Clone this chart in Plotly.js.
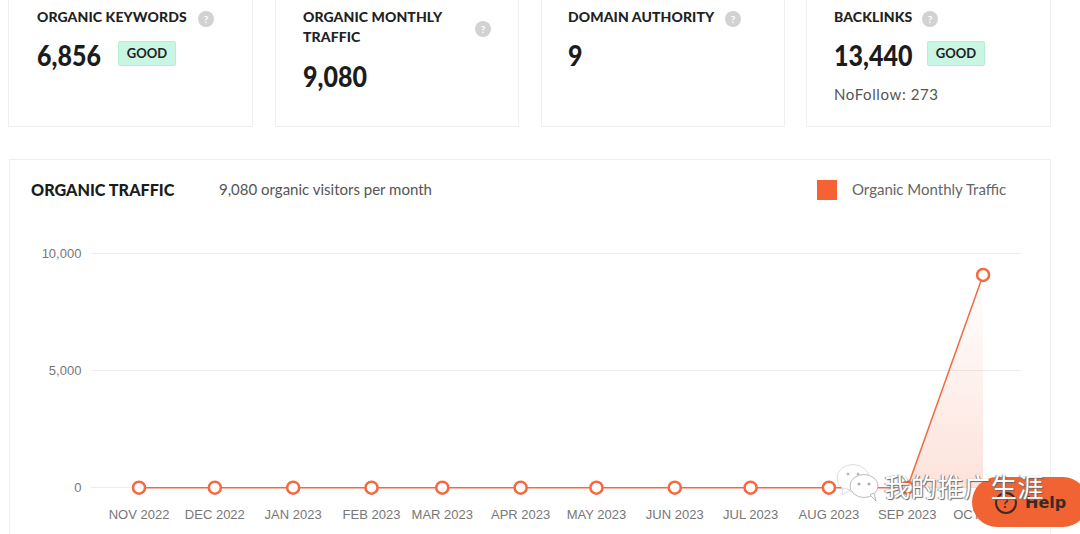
<!DOCTYPE html>
<html>
<head>
<meta charset="utf-8">
<script src="https://cdn.plot.ly/plotly-3.0.1.min.js"></script>
<style>
html,body{margin:0;padding:0;background:#fff;width:1080px;height:534px;overflow:hidden;font-family:Lato,"Open Sans",sans-serif;}
#chart{position:absolute;left:0;top:0;width:1080px;height:534px;}
.card{position:absolute;box-sizing:border-box;border:1px solid #f0f0f0;background:#fff;}
.t{position:absolute;white-space:nowrap;line-height:20px;height:20px;transform:translateY(-10px);color:#222;}
.lbl{font-weight:900;font-size:14px;color:#222;letter-spacing:.1px;}
.num{font-weight:900;font-size:25px;color:#1c1c1c;transform:translateY(-10px) scaleY(1.12);}
.q{position:absolute;width:16px;height:16px;border-radius:50%;background:#d2d2d2;color:#fff;font:700 10px/16px Lato,sans-serif;text-align:center;}
.good{position:absolute;box-sizing:border-box;width:58px;height:25px;background:#c9f5e3;border:1px solid #b4efd8;border-radius:2px;font:700 13px/23px Lato,sans-serif;color:#222;text-align:center;}
.reg{font-size:15px;color:#555;}
#over{position:absolute;left:0;top:0;width:1080px;height:534px;pointer-events:none;}
</style>
</head>
<body>
<div class="card" style="left:9px;top:159px;width:1042px;height:400px;"></div>
<div id="chart"></div>
<div id="over">
  <div class="card" style="left:8px;top:-20px;width:245px;height:147px;"></div>
  <div class="card" style="left:275px;top:-20px;width:244px;height:147px;"></div>
  <div class="card" style="left:541px;top:-20px;width:244px;height:147px;"></div>
  <div class="card" style="left:806px;top:-20px;width:245px;height:147px;"></div>

  <div class="t lbl" style="left:37px;top:17px;">ORGANIC KEYWORDS</div>
  <div class="q" style="left:198px;top:11px;">?</div>
  <div class="t num" style="left:37px;top:55px;">6,856</div>
  <div class="good" style="left:118px;top:41px;">GOOD</div>

  <div class="t lbl" style="left:303px;top:17px;">ORGANIC MONTHLY</div>
  <div class="t lbl" style="left:303px;top:37px;">TRAFFIC</div>
  <div class="q" style="left:475px;top:21px;">?</div>
  <div class="t num" style="left:303px;top:76px;">9,080</div>

  <div class="t lbl" style="left:568px;top:17px;">DOMAIN AUTHORITY</div>
  <div class="q" style="left:725px;top:11px;">?</div>
  <div class="t num" style="left:568px;top:55px;">9</div>

  <div class="t lbl" style="left:834px;top:17px;">BACKLINKS</div>
  <div class="q" style="left:922px;top:11px;">?</div>
  <div class="t num" style="left:834px;top:55px;">13,440</div>
  <div class="good" style="left:927px;top:41px;">GOOD</div>
  <div class="t reg" style="left:834px;top:94px;letter-spacing:.6px;">NoFollow: 273</div>

  <div class="t" style="left:31px;top:190px;font-weight:900;font-size:16.2px;color:#1c1c1c;">ORGANIC TRAFFIC</div>
  <div class="t reg" style="left:219px;top:189px;">9,080 organic visitors per month</div>
  <div style="position:absolute;left:817px;top:180px;width:20px;height:20px;background:#f46236;"></div>
  <div class="t reg" style="left:852px;top:189px;color:#666;">Organic Monthly Traffic</div>

  <div style="position:absolute;left:972px;top:477px;width:116px;height:50px;border-radius:25px;background:#f26334;"></div>
  <svg style="position:absolute;left:993px;top:490px;" width="26" height="26"><circle cx="13" cy="13" r="10" fill="none" stroke="#3a2a22" stroke-width="2"/></svg>
  <div class="t" style="left:1002px;top:503px;font:700 14px/20px Lato,sans-serif;color:#3a2a22;">?</div>
  <div class="t" style="left:1025px;top:503px;font:700 16px/20px 'DejaVu Sans',sans-serif;color:#3a2a22;">Help</div>

  <svg style="position:absolute;left:832px;top:462px;" width="50" height="42">
    <ellipse cx="21" cy="16" rx="16" ry="13.5" fill="#fff" stroke="#ddd"/>
    <path d="M11 26 L10 33 L18 28 Z" fill="#fff" stroke="#ddd"/>
    <ellipse cx="32" cy="24" rx="14" ry="11.5" fill="#fff" stroke="#bbb"/>
    <path d="M38 33 L44 39 L42 31 Z" fill="#fff" stroke="#bbb"/>
    <circle cx="16" cy="12" r="1.5" fill="#bbb"/><circle cx="26" cy="12" r="1.5" fill="#bbb"/>
    <circle cx="27" cy="22" r="1.5" fill="#aaa"/><circle cx="37" cy="22" r="1.5" fill="#aaa"/>
  </svg>
  <div class="t" style="left:884px;top:486px;font:400 26px/26px 'Noto Sans CJK SC',sans-serif;height:26px;transform:translateY(-13px);color:#fff;letter-spacing:.7px;text-shadow:1px 1px 1px #666,-1px 0 1px #888;">我的推广生涯</div>
</div>
<script>
var months = ["2022-11-01","2022-12-01","2023-01-01","2023-02-01","2023-03-01","2023-04-01","2023-05-01","2023-06-01","2023-07-01","2023-08-01","2023-09-01","2023-10-01"];
var monthLabels = ["NOV 2022","DEC 2022","JAN 2023","FEB 2023","MAR 2023","APR 2023","MAY 2023","JUN 2023","JUL 2023","AUG 2023","SEP 2023","OCT 2023"];
var traffic = [0,0,0,0,0,0,0,0,0,0,0,9080];
var yTicks = [0,5000,10000];
var yTickLabels = ["0","5,000","10,000"];
var orange = "#f4693f";

Plotly.newPlot("chart", [{
  type: "scatter",
  mode: "none",
  x: months.slice(-2),
  y: traffic.slice(-2),
  hoverinfo: "skip",
  showlegend: false,
  fill: "tozeroy",
  fillgradient: {
    type: "vertical",
    start: 9080, stop: 0,
    colorscale: [[0, "rgba(244,113,74,0)"], [1, "rgba(244,113,74,0.2)"]]
  }
}, {
  type: "scatter",
  mode: "lines+markers",
  x: months,
  y: traffic,
  name: "Organic Monthly Traffic",
  cliponaxis: false,
  line: {color: orange, width: 1.5},
  marker: {size: 12, color: "#fff", line: {color: orange, width: 2.5}}
}], {
  width: 1080, height: 534,
  margin: {l: 91, r: 59, t: 250.65, b: 44.15, pad: 0},
  paper_bgcolor: "rgba(0,0,0,0)",
  plot_bgcolor: "rgba(0,0,0,0)",
  showlegend: false,
  xaxis: {
    type: "date",
    range: ["2022-10-13", "2023-10-16"],
    tickmode: "array", tickvals: months, ticktext: monthLabels,
    showgrid: false, zeroline: false, showline: false,
    ticks: "outside", ticklen: 12, tickcolor: "rgba(0,0,0,0)", tickangle: 0,
    tickfont: {family: "Liberation Sans, Arial, sans-serif", size: 13, color: "#777"}
  },
  yaxis: {
    range: [-100, 10100],
    tickmode: "array", tickvals: yTicks, ticktext: yTickLabels,
    showgrid: true, gridcolor: "#ececec", gridwidth: 1,
    zeroline: false, showline: false,
    ticks: "outside", ticklen: 6, tickcolor: "rgba(0,0,0,0)",
    tickfont: {family: "Liberation Sans, Arial, sans-serif", size: 13, color: "#777"}
  }
}, {displayModeBar: false, staticPlot: true});
</script>
</body>
</html>
